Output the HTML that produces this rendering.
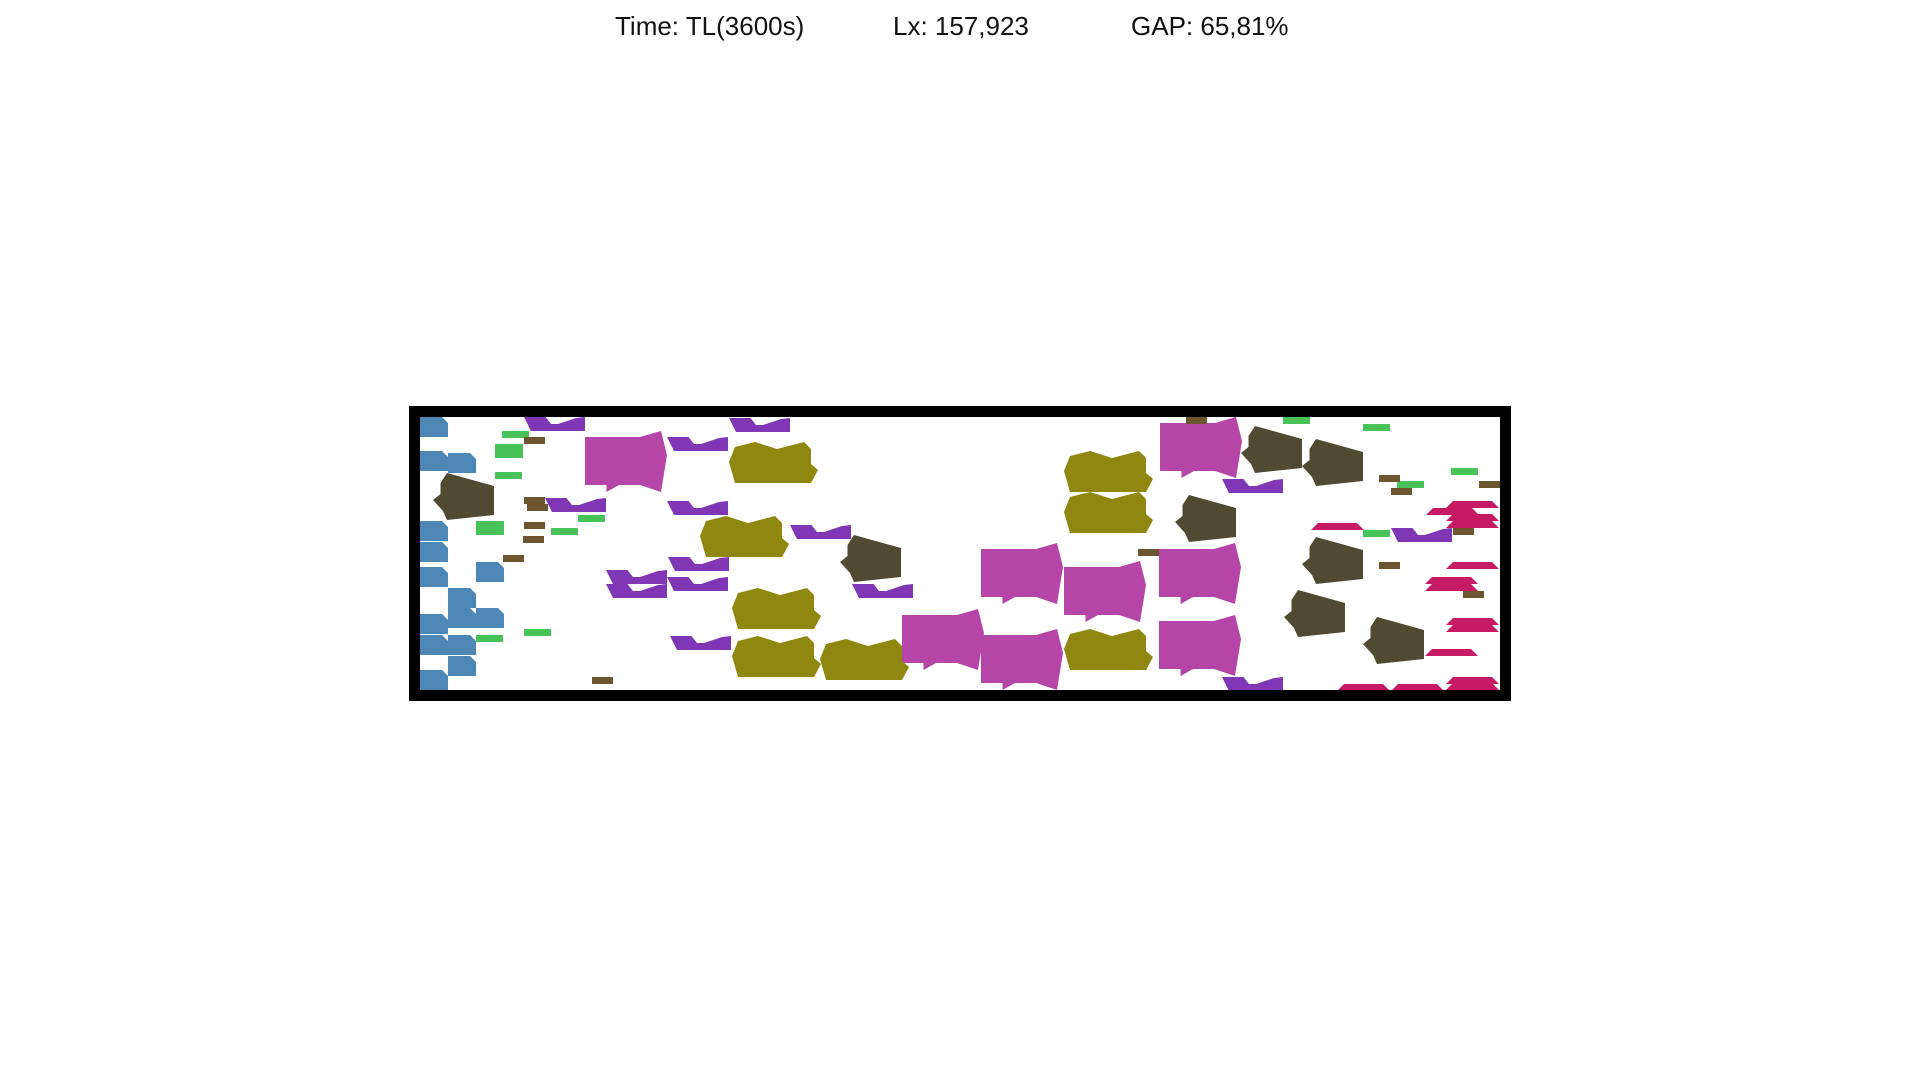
<!DOCTYPE html>
<html><head><meta charset="utf-8"><title>TL layout</title>
<style>
html,body{margin:0;padding:0;background:#fff;}
body{width:1920px;height:1080px;overflow:hidden;font-family:"Liberation Sans",sans-serif;}
</style></head>
<body>
<svg width="1920" height="1080" viewBox="0 0 1920 1080" xmlns="http://www.w3.org/2000/svg">
  <g font-family="Liberation Sans, sans-serif" font-size="26" fill="#111">
    <text x="615" y="35">Time: TL(3600s)</text>
    <text x="893" y="35">Lx: 157,923</text>
    <text x="1131" y="35">GAP: 65,81%</text>
  </g>
  <defs>
    <clipPath id="inner"><rect x="420" y="417" width="1080" height="273"/></clipPath>
  </defs>
  <g id="shapes" clip-path="url(#inner)"></g>
  <rect x="414.5" y="411.5" width="1091" height="284" fill="none" stroke="#000" stroke-width="11"/>
</svg>
<script>
// item kinds and positions (top-left of each shape)
const kinds = [
 'blue','blue','blue','blue','blue','blue','blue','blue','blue','blue','blue','blue','blue','blue','blue',
 'green','greenL','green','greenL','green','green','green','green',
 'brown','brown','brown','brown','brown','brown','brown',
 'purple','purple','purple','purple','purple','purple','purple','purple','purple','purple','purple','purple',
 'magenta','magenta','olive','olive','olive','olive','olive','dark','dark',
 'magenta','magenta','magenta','magenta','magenta','magenta',
 'olive','olive','olive',
 'dark','dark','dark','dark','dark','dark',
 'purple','purple','purple',
 'green','green','green','green','green',
 'brown','brown','brown','brown','brown','brown','brown','brown',
 'crimson','crimson','crimson','crimson','crimson','crimson','crimson','crimson','crimson','crimson','crimson','crimson','crimson','crimson','crimson'
];
const xs = [
 420,420,448,420,420,420,476,448,448,476,420,420,448,448,420,
 502,495,495,476,578,551,524,476,
 524,524,527,524,523,503,592,
 524,729,667,545,667,790,606,606,668,667,852,670,
 585,902,729,700,732,732,820,433,840,
 1160,981,1064,1159,981,1159,
 1064,1064,1064,
 1241,1302,1175,1302,1284,1363,
 1222,1391,1222,
 1283,1363,1397,1451,1363,
 1186,1379,1391,1479,1453,1138,1379,1463,
 1311,1446,1426,1446,1446,1446,1425,1425,1446,1446,1425,1446,1446,1337,1391
];
const ys = [
 417,451,453,521,542,567,562,588,608,608,614,635,635,656,670,
 431,444,472,521,515,528,629,635,
 437,497,504,522,536,555,677,
 417,418,437,498,501,525,570,584,557,577,584,636,
 431,609,442,516,588,636,639,473,535,
 417,543,561,543,629,615,
 451,492,629,
 426,439,495,537,590,617,
 479,528,677,
 417,424,481,468,530,
 417,475,488,481,528,549,562,591,
 523,501,508,514,521,562,577,584,618,625,649,677,683,684,684
];
const templates = {
  blue:{fill:'#4d87b6',pts:[[0,0],[22,0],[28,6],[28,20],[0,20]]},
  green:{fill:'#47c35a',pts:[[0,0],[27,0],[27,7],[0,7]]},
  greenL:{fill:'#47c35a',pts:[[0,0],[28,0],[28,14],[0,14]]},
  brown:{fill:'#6b5630',pts:[[0,0],[21,0],[21,7],[0,7]]},
  purple:{fill:'#7f37b5',pts:[[0,0],[21.5,0],[27,7],[34,7],[52,1],[61,0],[61,14],[7,14]]},
  magenta:{fill:'#b645a8',pts:[[0,6],[55,6],[76,0],[82,24],[76,61],[55,54],[34,54],[21.5,61],[21.5,54],[0,54]]},
  olive:{fill:'#8f870f',pts:[[6,5],[26,0],[48,7],[75,0],[82,7],[82,22],[89,28],[82,41],[6,41],[0,20]]},
  dark:{fill:'#514a33',pts:[[14,0],[61,13],[61,42],[14,47],[10,38],[0,27],[7.5,21],[7.5,10]]},
  crimson:{fill:'#c71a64',pts:[[7,0],[46,0],[53,7],[0,7]]}
};
const g = document.getElementById('shapes');
const NS = 'http://www.w3.org/2000/svg';
kinds.forEach((k,i)=>{
  const t = templates[k];
  const p = document.createElementNS(NS,'polygon');
  p.setAttribute('points', t.pts.map(q=>(xs[i]+q[0])+','+(ys[i]+q[1])).join(' '));
  p.setAttribute('fill', t.fill);
  
  
  g.appendChild(p);
});
</script>
</body></html>
